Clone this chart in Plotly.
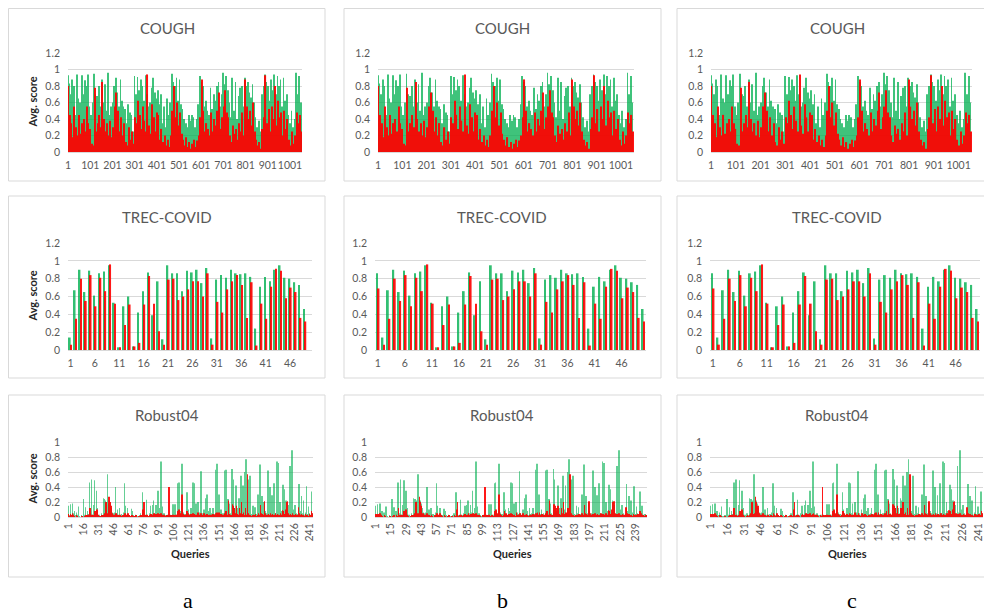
import plotly.graph_objects as go

# ---------------- DATA ----------------
# COUGH: values read at every 7th query (1, 8, 15, ...)
cough_step = 7
cough_green = [0.93, 0.83, 0.70, 0.88, 0.80, 0.45, 0.94, 0.65,
               0.60, 0.93, 0.70, 0.87, 0.80, 0.94, 0.55,
               0.45, 0.60, 0.95, 0.70, 0.68, 0.80, 0.55,
               0.88, 0.60, 0.82, 0.50, 0.96, 0.45, 0.55,
               0.60, 0.80, 0.90, 0.72, 0.55, 0.88, 0.62,
               0.55, 0.52, 0.35, 0.58, 0.48, 0.45, 0.25,
               0.92, 0.70, 0.91, 0.75, 0.88, 0.80, 0.62, 0.93,
               0.70, 0.55, 0.60, 0.78, 0.90, 0.72, 0.65,
               0.75, 0.58, 0.70, 0.35, 0.55, 0.30, 0.65,
               0.45, 0.60, 0.95, 0.85, 0.80, 0.90, 0.62,
               0.88, 0.58, 0.52, 0.40, 0.35, 0.30, 0.45,
               0.38, 0.45, 0.42, 0.30, 0.40, 0.58, 0.92,
               0.85, 0.80, 0.55, 0.62, 0.50, 0.45, 0.78,
               0.52, 0.70, 0.62, 0.80, 0.85, 0.55, 0.70,
               0.96, 0.82, 0.92, 0.75, 0.60, 0.42, 0.90,
               0.50, 0.85, 0.40, 0.68, 0.78, 0.80, 0.55,
               0.90, 0.80, 0.85, 0.72, 0.66, 0.82, 0.60,
               0.42, 0.30, 0.38, 0.25, 0.70, 0.80, 0.94,
               0.85, 0.80, 0.62, 0.88, 0.75, 0.94, 0.70,
               0.92, 0.80, 0.88, 0.55, 0.90, 0.62, 0.70,
               0.45, 0.35, 0.50, 0.30, 0.40, 0.96, 0.70, 0.92, 0.60]
cough_red = [0.80, 0.45, 0.35, 0.18, 0.55, 0.30, 0.20, 0.45,
             0.22, 0.35, 0.40, 0.25, 0.55, 0.35, 0.28,
             0.10, 0.08, 0.78, 0.25, 0.35, 0.45, 0.30,
             0.85, 0.40, 0.25, 0.35, 0.20, 0.38, 0.18,
             0.30, 0.55, 0.72, 0.50, 0.25, 0.42, 0.20,
             0.35, 0.12, 0.08, 0.30, 0.15, 0.25, 0.10,
             0.42, 0.35, 0.62, 0.45, 0.28, 0.55, 0.38, 0.25,
             0.94, 0.32, 0.22, 0.58, 0.42, 0.25, 0.48,
             0.45, 0.15, 0.28, 0.12, 0.20, 0.08, 0.15,
             0.06, 0.20, 0.50, 0.80, 0.42, 0.60, 0.32,
             0.48, 0.22, 0.15, 0.08, 0.18, 0.06, 0.12,
             0.04, 0.10, 0.15, 0.06, 0.14, 0.20, 0.42,
             0.88, 0.50, 0.25, 0.35, 0.28, 0.20, 0.48,
             0.25, 0.40, 0.32, 0.50, 0.72, 0.28, 0.42,
             0.55, 0.75, 0.48, 0.42, 0.20, 0.12, 0.32,
             0.22, 0.28, 0.15, 0.35, 0.25, 0.48, 0.20,
             0.88, 0.55, 0.40, 0.50, 0.32, 0.60, 0.25,
             0.15, 0.08, 0.12, 0.04, 0.28, 0.42, 0.93,
             0.35, 0.52, 0.25, 0.55, 0.40, 0.80, 0.32,
             0.62, 0.42, 0.48, 0.20, 0.50, 0.28, 0.40,
             0.15, 0.08, 0.25, 0.10, 0.20, 0.48, 0.35, 0.45, 0.25]
cough_ticks = [1, 101, 201, 301, 401, 501, 601, 701, 801, 901, 1001]

# TREC-COVID: 50 queries
trec_green = [0.86, 0.14, 0.67, 0.90, 0.65, 0.89, 0.61, 0.86, 0.88, 0.95,
              0.53, 0.03, 0.49, 0.60, 0.04, 0.42, 0.66, 0.87, 0.39, 0.77,
              0.12, 0.95, 0.86, 0.86, 0.66, 0.89, 0.87, 0.90, 0.75, 0.92,
              0.13, 0.79, 0.84, 0.81, 0.90, 0.86, 0.85, 0.86, 0.82, 0.24,
              0.71, 0.82, 0.77, 0.90, 0.95, 0.81, 0.80, 0.76, 0.73, 0.46]
trec_red = [0.69, 0.06, 0.35, 0.80, 0.55, 0.84, 0.49, 0.81, 0.66, 0.96,
            0.52, 0.03, 0.28, 0.51, 0.04, 0.08, 0.51, 0.83, 0.52, 0.21,
            0.06, 0.79, 0.80, 0.56, 0.60, 0.68, 0.77, 0.77, 0.60, 0.86,
            0.06, 0.54, 0.42, 0.68, 0.77, 0.84, 0.73, 0.36, 0.76, 0.05,
            0.52, 0.35, 0.71, 0.91, 0.89, 0.58, 0.70, 0.65, 0.36, 0.32]
trec_ticks = [1, 6, 11, 16, 21, 26, 31, 36, 41, 46]

# Robust04: 249 queries
robust_green = [
    0.15, 0.02, 0.17, 0.03, 0.18, 0.05, 0.08, 0.02, 0.06, 0.03, 0.14, 0.01, 0.00, 0.02, 0.01,
    0.24, 0.03, 0.13, 0.02, 0.08, 0.04, 0.46, 0.05, 0.50, 0.03, 0.16, 0.49, 0.06, 0.35, 0.12,
    0.02, 0.03, 0.01, 0.05, 0.02, 0.25, 0.24, 0.22, 0.20, 0.57, 0.18, 0.22, 0.18, 0.12, 0.06,
    0.05, 0.06, 0.40, 0.05, 0.10, 0.03, 0.12, 0.02, 0.04, 0.01, 0.06, 0.45, 0.15, 0.02, 0.12,
    0.03, 0.02, 0.01, 0.11, 0.08, 0.02, 0.01, 0.03, 0.02, 0.01, 0.00, 0.02, 0.05, 0.01, 0.33,
    0.10, 0.02, 0.03, 0.23, 0.02, 0.01, 0.05, 0.15, 0.03, 0.16, 0.22, 0.05, 0.16, 0.06, 0.35,
    0.05, 0.12, 0.74, 0.14, 0.03, 0.05, 0.02, 0.01, 0.02, 0.03, 0.02, 0.03, 0.01, 0.02, 0.17,
    0.05, 0.17, 0.02, 0.03, 0.45, 0.46, 0.08, 0.04, 0.71, 0.06, 0.02, 0.04, 0.02, 0.33, 0.10,
    0.04, 0.03, 0.12, 0.08, 0.46, 0.45, 0.05, 0.18, 0.03, 0.20, 0.06, 0.04, 0.61, 0.05, 0.03,
    0.10, 0.05, 0.25, 0.30, 0.08, 0.02, 0.12, 0.04, 0.05, 0.12, 0.03, 0.04, 0.63, 0.71, 0.05,
    0.30, 0.04, 0.10, 0.03, 0.05, 0.02, 0.62, 0.63, 0.06, 0.24, 0.18, 0.05, 0.03, 0.64, 0.50,
    0.12, 0.08, 0.42, 0.12, 0.05, 0.25, 0.22, 0.55, 0.10, 0.42, 0.05, 0.60, 0.77, 0.10, 0.50,
    0.08, 0.55, 0.04, 0.03, 0.15, 0.05, 0.13, 0.02, 0.04, 0.30, 0.06, 0.70, 0.10, 0.28, 0.05,
    0.20, 0.08, 0.03, 0.05, 0.62, 0.04, 0.40, 0.05, 0.29, 0.03, 0.45, 0.05, 0.04, 0.74, 0.72,
    0.05, 0.20, 0.08, 0.04, 0.43, 0.37, 0.05, 0.22, 0.20, 0.16, 0.04, 0.68, 0.06, 0.89, 0.10,
    0.03, 0.16, 0.05, 0.02, 0.04, 0.44, 0.08, 0.28, 0.05, 0.22, 0.03, 0.06, 0.41, 0.04, 0.14,
    0.05, 0.03, 0.34, 0.05, 0.15, 0.03, 0.02, 0.04, 0.02]
robust_red = [
    0.04, 0.01, 0.04, 0.02, 0.05, 0.03, 0.01, 0.00, 0.02, 0.01, 0.00, 0.00, 0.00, 0.01, 0.00,
    0.00, 0.01, 0.02, 0.00, 0.03, 0.01, 0.12, 0.02, 0.03, 0.01, 0.02, 0.08, 0.04, 0.10, 0.03,
    0.01, 0.00, 0.01, 0.02, 0.01, 0.03, 0.05, 0.20, 0.04, 0.05, 0.27, 0.20, 0.15, 0.05, 0.03,
    0.02, 0.03, 0.05, 0.03, 0.02, 0.01, 0.03, 0.01, 0.00, 0.02, 0.01, 0.05, 0.03, 0.01, 0.05,
    0.02, 0.01, 0.00, 0.02, 0.01, 0.00, 0.01, 0.02, 0.00, 0.00, 0.01, 0.00, 0.02, 0.01, 0.10,
    0.20, 0.01, 0.02, 0.03, 0.01, 0.00, 0.02, 0.04, 0.02, 0.03, 0.05, 0.02, 0.04, 0.03, 0.05,
    0.02, 0.04, 0.05, 0.03, 0.02, 0.03, 0.01, 0.00, 0.02, 0.01, 0.40, 0.02, 0.01, 0.02, 0.03,
    0.01, 0.02, 0.03, 0.01, 0.08, 0.10, 0.05, 0.03, 0.30, 0.04, 0.02, 0.01, 0.03, 0.08, 0.05,
    0.02, 0.01, 0.04, 0.02, 0.05, 0.04, 0.02, 0.03, 0.01, 0.06, 0.03, 0.02, 0.05, 0.02, 0.01,
    0.05, 0.02, 0.03, 0.04, 0.02, 0.01, 0.03, 0.02, 0.03, 0.04, 0.02, 0.03, 0.05, 0.06, 0.03,
    0.06, 0.02, 0.04, 0.02, 0.03, 0.01, 0.05, 0.08, 0.03, 0.22, 0.04, 0.03, 0.02, 0.17, 0.15,
    0.12, 0.05, 0.15, 0.04, 0.03, 0.12, 0.05, 0.20, 0.04, 0.06, 0.02, 0.12, 0.03, 0.57, 0.05,
    0.03, 0.02, 0.01, 0.02, 0.03, 0.02, 0.04, 0.01, 0.02, 0.05, 0.03, 0.16, 0.05, 0.04, 0.03,
    0.21, 0.05, 0.02, 0.03, 0.04, 0.02, 0.05, 0.03, 0.04, 0.02, 0.03, 0.05, 0.02, 0.04, 0.03,
    0.02, 0.05, 0.03, 0.09, 0.08, 0.04, 0.10, 0.20, 0.21, 0.05, 0.03, 0.04, 0.02, 0.05, 0.03,
    0.02, 0.04, 0.03, 0.02, 0.13, 0.05, 0.03, 0.04, 0.02, 0.03, 0.01, 0.04, 0.02, 0.03, 0.01,
    0.04, 0.02, 0.08, 0.05, 0.03, 0.02, 0.01, 0.03, 0.02]
robust_ticks_ac = [1, 16, 31, 46, 61, 76, 91, 106, 121, 136, 151, 166, 181, 196, 211, 226, 241]
robust_ticks_b = [1, 15, 29, 43, 57, 71, 85, 99, 113, 127, 141, 155, 169, 183, 197, 211, 225, 239]

panel_titles = ["COUGH", "TREC-COVID", "Robust04"]
captions = ["a", "b", "c"]
y_title = "Avg. score"
x_title = "Queries"

# ---------------- LAYOUT HELPERS ----------------
# the page body has an 8px margin, so the figure is drawn from (8, 8)
OX, OY = 8, 8
FW, FH = 984, 604
GREEN = "#00B050"
RED = "#FF0000"
GRID = "#D9D9D9"
TXT = "#595959"
FONT = "Lato"


def fx(px):
    return max(px - OX, 0.5) / FW


def fy(py):
    return 1 - max(py - OY, 0.5) / FH


fig = go.Figure()

cough_x = [1 + cough_step * i for i in range(len(cough_green))]

plot_x = [[(68, 302), (378, 634), (711, 972)],
          [(68, 312), (375, 646), (710, 980)],
          [(68, 313), (375, 647), (710, 983)]]
plot_y = [(53, 152), (243, 350), (442, 517)]
box_x = [(7, 325), (344, 661), (677, 990)]
box_y = [(7, 181), (196, 378), (395, 577)]
title_y = [28, 217, 415]
title_cx = [167, 502, 837]
xtitle_cx = [190, 512, 847]
caption_cx = [188, 502, 852]

k = 0
for r in range(3):
    for c in range(3):
        k += 1
        xa = "x" if k == 1 else f"x{k}"
        ya = "y" if k == 1 else f"y{k}"
        if r == 0:
            xg, yg, xr, yr = cough_x, cough_green, cough_x, cough_red
            gw, go_, rw, ro = 3.2, -3.5, 5.0, -1.8
            gop, rop = 0.75, 0.92
            xrange = [0.5, 1055]
            ticks = cough_ticks
            yrange, ytv = [0, 1.2], [0, 0.2, 0.4, 0.6, 0.8, 1, 1.2]
        elif r == 1:
            if c == 0:
                tg, tr = trec_green[1:], trec_red[1:]
            else:
                tg, tr = trec_green, trec_red
            xs = list(range(1, len(tg) + 1))
            xg, yg, xr, yr = xs, tg, xs, tr
            gw, go_, rw, ro = 0.34, -0.30, 0.34, -0.02
            gop, rop = 0.8, 0.9
            xrange = [0.5, 50.5]
            ticks = trec_ticks
            yrange, ytv = [0, 1.2], [0, 0.2, 0.4, 0.6, 0.8, 1, 1.2]
        else:
            xs = list(range(1, len(robust_green) + 1))
            xg, yg, xr, yr = xs, robust_green, xs, robust_red
            gw, go_, rw, ro = 0.6, -0.45, 0.6, -0.15
            gop, rop = 0.6, 0.9
            xrange = [0.5, 249.5] if c == 1 else [0.5, 244.5]
            ticks = robust_ticks_b if c == 1 else robust_ticks_ac
            yrange, ytv = [0, 1.0], [0, 0.2, 0.4, 0.6, 0.8, 1]

        fig.add_trace(go.Bar(x=xg, y=yg, xaxis=xa, yaxis=ya, width=gw, offset=go_,
                             marker=dict(color=GREEN, line=dict(width=0)),
                             opacity=gop, showlegend=False))
        fig.add_trace(go.Bar(x=xr, y=yr, xaxis=xa, yaxis=ya, width=rw, offset=ro,
                             marker=dict(color=RED, line=dict(width=0)),
                             opacity=rop, showlegend=False))

        px0, px1 = plot_x[r][c]
        py0, py1 = plot_y[r]
        xkey = "xaxis" if k == 1 else f"xaxis{k}"
        ykey = "yaxis" if k == 1 else f"yaxis{k}"
        fig.update_layout(**{
            xkey: dict(domain=[fx(px0), fx(px1)], anchor=ya, range=xrange,
                       tickmode="array", tickvals=ticks, ticktext=[str(t) for t in ticks],
                       tickangle=-90 if r == 2 else 0, automargin=False,
                       showgrid=False, zeroline=False, showline=True, linecolor=GRID,
                       ticks="", ticklabelstandoff=3 if r < 2 else 1,
                       tickfont=dict(family=FONT, size=10.5, color=TXT),
                       fixedrange=True),
            ykey: dict(domain=[fy(py1), fy(py0)], anchor=xa, range=yrange,
                       tickmode="array", tickvals=ytv, ticktext=[f"{v:g}" for v in ytv],
                       showgrid=True, gridcolor=GRID, gridwidth=1, zeroline=False,
                       showline=False, ticks="", automargin=False, ticklabelstandoff=7,
                       tickfont=dict(family=FONT, size=10.5, color=TXT),
                       fixedrange=True),
        })

shapes = []
annotations = []
for r in range(3):
    for c in range(3):
        bx0, bx1 = box_x[c]
        by0, by1 = box_y[r]
        shapes.append(dict(type="rect", xref="paper", yref="paper",
                           x0=fx(bx0), x1=fx(bx1), y0=fy(by1), y1=fy(by0),
                           line=dict(color=GRID, width=1), fillcolor="rgba(0,0,0,0)",
                           layer="below"))
        annotations.append(dict(text=panel_titles[r], xref="paper", yref="paper",
                                x=fx(title_cx[c]), y=fy(title_y[r]), showarrow=False,
                                xanchor="center", yanchor="middle",
                                font=dict(family=FONT, size=15, color=TXT)))
    py0, py1 = plot_y[r]
    annotations.append(dict(text=f"<b>{y_title}</b>", xref="paper", yref="paper",
                            x=fx(32), y=fy((py0 + py1) / 2), showarrow=False, textangle=-90,
                            xanchor="center", yanchor="middle",
                            font=dict(family=FONT, size=11, color="#262626")))

for c in range(3):
    annotations.append(dict(text=f"<b>{x_title}</b>", xref="paper", yref="paper",
                            x=fx(xtitle_cx[c]), y=fy(553), showarrow=False,
                            xanchor="center", yanchor="middle",
                            font=dict(family=FONT, size=11, color="#262626")))
    annotations.append(dict(text=captions[c], xref="paper", yref="paper",
                            x=fx(caption_cx[c]), y=fy(600), showarrow=False,
                            xanchor="center", yanchor="middle",
                            font=dict(family="Liberation Serif", size=22, color="#000000")))

fig.update_layout(width=FW, height=FH, margin=dict(l=0, r=0, t=0, b=0, autoexpand=False),
                  paper_bgcolor="white", plot_bgcolor="white",
                  barmode="overlay", shapes=shapes, annotations=annotations,
                  showlegend=False)

fig.write_html("out.html")
